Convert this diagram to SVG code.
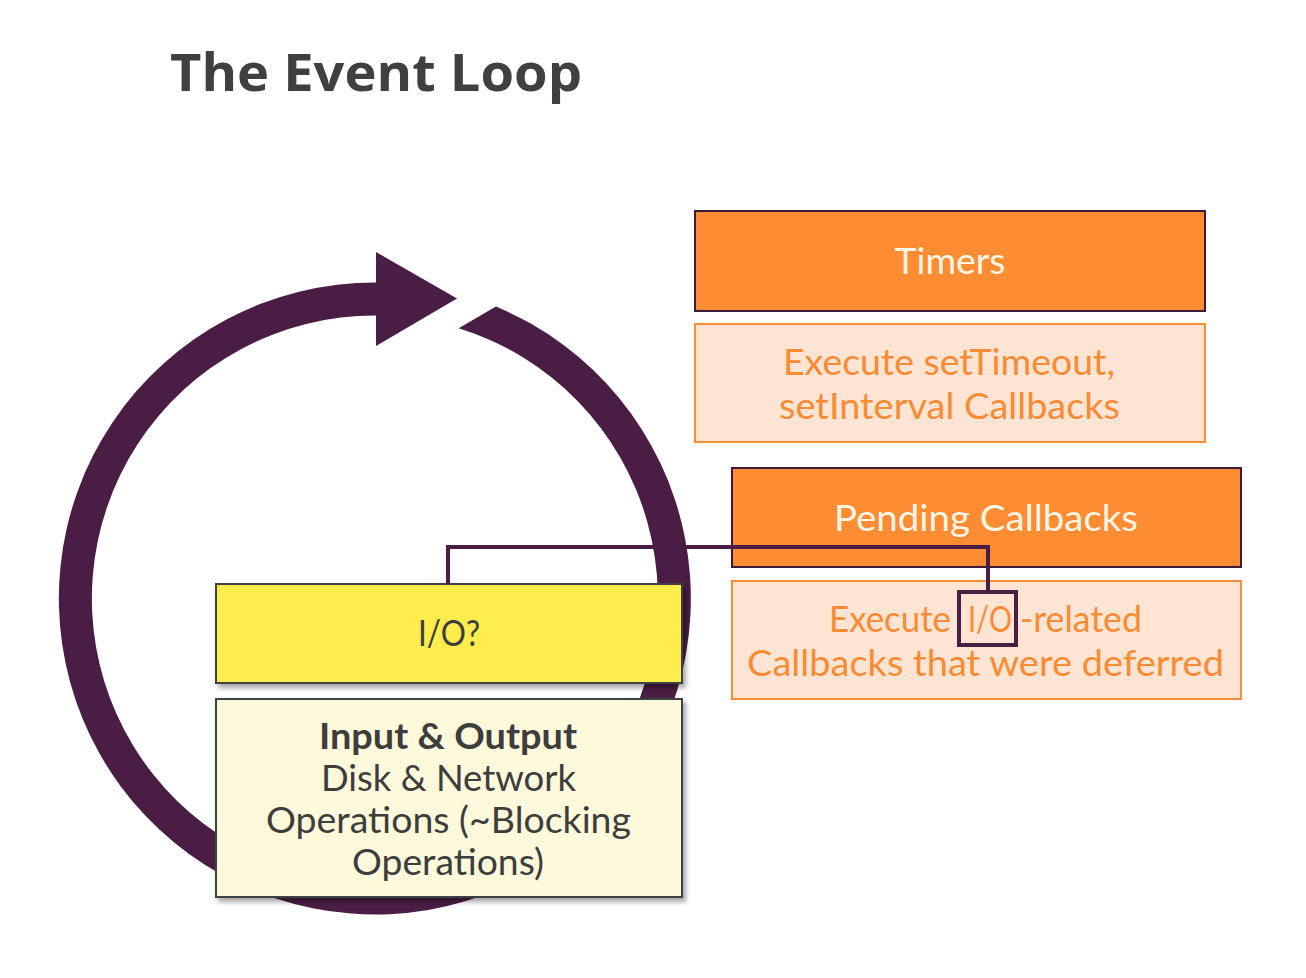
<svg xmlns="http://www.w3.org/2000/svg" width="1306" height="978" viewBox="0 0 1306 978">
  <defs>
    <filter id="shadow" x="-5%" y="-10%" width="115%" height="130%">
      <feDropShadow dx="3" dy="4" stdDeviation="2.5" flood-color="#000" flood-opacity="0.35"/>
    </filter>
    <style>
      .title { font-family: "Open Sans", "Lato", sans-serif; font-weight: bold; font-size: 52px; fill: #404040; }
      .t { font-family: "Lato", "Open Sans", sans-serif; font-size: 37px; text-anchor: middle; }
      .s { text-anchor: start; }
      .phase { fill: #fe8c33; stroke: #3d1a3a; stroke-width: 2; }
      .phase-t { fill: #fff6e6; }
      .desc { fill: #fee4d3; stroke: #f98e36; stroke-width: 2; }
      .desc-t { fill: #f98b34; }
      .yellow { fill: #ffec4e; stroke: #3c4246; stroke-width: 2; }
      .pale { fill: #fef9da; stroke: #3c4246; stroke-width: 2; }
      .dark-t { fill: #3d3d3d; }
      .conn { fill: none; stroke: #4a1d45; stroke-width: 4; }
    </style>
  </defs>
  <rect width="1306" height="978" fill="#ffffff"/>

  <text class="title" x="170" y="91" textLength="412" lengthAdjust="spacingAndGlyphs">The Event Loop</text>

  <g id="loop">
    <path fill="#4a1d45" d="M 495.9 306.6 A 316 316 0 1 1 376 282.5 L 376 252 L 457 298.5 L 376 346 L 376 315.5 A 283 283 0 1 0 458.7 328.2 Z"/>
  </g>

  <g id="timers">
    <rect class="phase" x="695" y="211" width="510" height="100"/>
    <text class="t phase-t" x="950" y="274" textLength="111" lengthAdjust="spacingAndGlyphs">Timers</text>
  </g>
  <g id="timers-desc">
    <rect class="desc" x="695" y="324" width="510" height="118"/>
    <text class="t desc-t" x="949" y="375" textLength="332" lengthAdjust="spacingAndGlyphs">Execute setTimeout,</text>
    <text class="t desc-t" x="949.5" y="419" textLength="341" lengthAdjust="spacingAndGlyphs">setInterval Callbacks</text>
  </g>

  <g id="pending">
    <rect class="phase" x="732" y="468" width="509" height="99"/>
    <text class="t phase-t" x="986" y="531" textLength="304" lengthAdjust="spacingAndGlyphs">Pending Callbacks</text>
  </g>
  <g id="pending-desc">
    <rect class="desc" x="732" y="581" width="509" height="118"/>
    <text class="t s desc-t" x="829" y="632" textLength="122" lengthAdjust="spacingAndGlyphs">Execute</text>
    <text class="t s desc-t" x="968" y="632" textLength="44" lengthAdjust="spacingAndGlyphs">I/O</text>
    <text class="t s desc-t" x="1020" y="632" textLength="122" lengthAdjust="spacingAndGlyphs">-related</text>
    <text class="t desc-t" x="985.5" y="676" textLength="477" lengthAdjust="spacingAndGlyphs">Callbacks that were deferred</text>
  </g>

  <g id="io">
    <rect class="yellow" x="216" y="584" width="466" height="99" filter="url(#shadow)"/>
    <text class="t dark-t" x="449" y="646" textLength="62" lengthAdjust="spacingAndGlyphs">I/O?</text>
  </g>
  <g id="io-desc">
    <rect class="pale" x="216" y="699" width="466" height="198" filter="url(#shadow)"/>
    <text class="t dark-t" x="448" y="749" font-weight="bold" textLength="258" lengthAdjust="spacingAndGlyphs">Input &amp; Output</text>
    <text class="t dark-t" x="448.5" y="791" textLength="255" lengthAdjust="spacingAndGlyphs">Disk &amp; Network</text>
    <text class="t dark-t" x="448.5" y="833" textLength="365" lengthAdjust="spacingAndGlyphs">Operations (~Blocking</text>
    <text class="t dark-t" x="448" y="875" textLength="192" lengthAdjust="spacingAndGlyphs">Operations)</text>
  </g>

  <g id="connectors">
    <polyline class="conn" points="448,584 448,547 988,547 988,592"/>
    <rect class="conn" x="959" y="592" width="57" height="53"/>
  </g>
</svg>
